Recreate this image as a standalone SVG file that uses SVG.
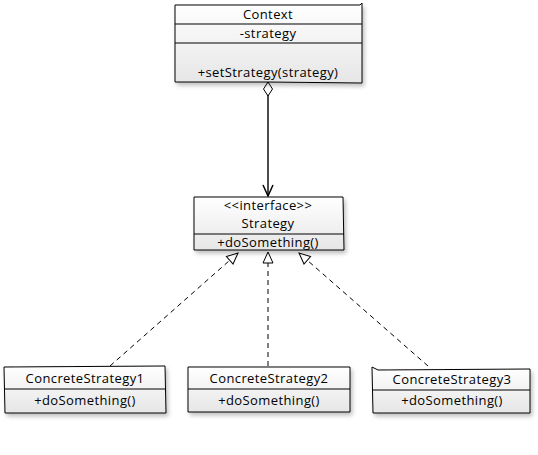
<svg xmlns="http://www.w3.org/2000/svg" width="538" height="455" viewBox="0 0 538 455">
<defs>
<linearGradient id="g" x1="0" y1="0" x2="0" y2="1">
<stop offset="0" stop-color="#ffffff"/>
<stop offset="1" stop-color="#e6e6e6"/>
</linearGradient>
<filter id="sh" x="-10%" y="-10%" width="120%" height="140%">
<feGaussianBlur in="SourceAlpha" stdDeviation="2"/>
<feOffset dx="2" dy="3" result="b"/>
<feComponentTransfer><feFuncA type="linear" slope="0.25"/></feComponentTransfer>
<feMerge><feMergeNode/><feMergeNode in="SourceGraphic"/></feMerge>
</filter>
<marker id="tri" markerWidth="14" markerHeight="14" refX="12" refY="6" orient="auto" markerUnits="userSpaceOnUse">
<path d="M1,1 L12,6 L1,11 Z" fill="#fff" stroke="#000" stroke-width="1"/>
</marker>
<marker id="open" markerWidth="14" markerHeight="14" refX="12" refY="6" orient="auto" markerUnits="userSpaceOnUse">
<path d="M1,1 L12,6 L1,11" fill="none" stroke="#000" stroke-width="1.5"/>
</marker>
<marker id="dia" markerWidth="20" markerHeight="12" refX="1" refY="6" orient="auto" markerUnits="userSpaceOnUse">
<path d="M1,6 L8,1.5 L15,6 L8,10.5 Z" fill="#fff" stroke="#000" stroke-width="1"/>
</marker>
</defs>
<style>
.box{fill:url(#g);stroke:#000;stroke-width:1;filter:url(#sh)}
.ln{stroke:#000;stroke-width:1;fill:none}
text{font-family:"Open Sans","DejaVu Sans",sans-serif;font-size:13px;letter-spacing:0.4px;fill:#000;text-anchor:middle}
.dash{stroke:#000;stroke-width:1;fill:none;stroke-dasharray:5,4}
</style>
<g id="connectors">
<path class="ln" style="stroke-width:1.4" d="M268,82 L268,196" marker-start="url(#dia)" marker-end="url(#open)"/>
<path class="dash" d="M110,366 L238,253" marker-end="url(#tri)"/>
<path class="dash" d="M268,366 L268,252" marker-end="url(#tri)"/>
<path class="dash" d="M428,366 L299,253" marker-end="url(#tri)"/>
</g>
<g id="context">
<path class="box" d="M175,5 L360,5 L362,3 L362,83 L268,82 L175,82 Z"/>
<line class="ln" x1="175" y1="24" x2="362" y2="24"/>
<line class="ln" x1="175" y1="43" x2="362" y2="43"/>
<text x="268" y="19">Context</text>
<text x="268" y="38">-strategy</text>
<text x="268" y="77">+setStrategy(strategy)</text>
</g>
<g id="strategy">
<path class="box" d="M194,197 L343,197 L344,250 L194,250 Z"/>
<line class="ln" x1="194" y1="234" x2="344" y2="234"/>
<text x="268" y="210">&lt;&lt;interface&gt;&gt;</text>
<text x="268" y="228">Strategy</text>
<text x="268" y="247">+doSomething()</text>
</g>
<g id="cs1">
<path class="box" d="M4,367 L165,366 L166,413 L5,413 Z"/>
<line class="ln" x1="4" y1="389" x2="166" y2="389"/>
<text x="85" y="383">ConcreteStrategy1</text>
<text x="85" y="405">+doSomething()</text>
</g>
<g id="cs2">
<path class="box" d="M188,367 L350,367 L350,412 L188,412 Z"/>
<line class="ln" x1="188" y1="389" x2="350" y2="389"/>
<text x="269" y="383">ConcreteStrategy2</text>
<text x="269" y="405">+doSomething()</text>
</g>
<g id="cs3">
<path class="box" d="M372,367 L378,370 L530,369 L530,413 L373,413 Z"/>
<line class="ln" x1="373" y1="390" x2="530" y2="390"/>
<text x="452" y="384">ConcreteStrategy3</text>
<text x="452" y="405">+doSomething()</text>
</g>
</svg>
